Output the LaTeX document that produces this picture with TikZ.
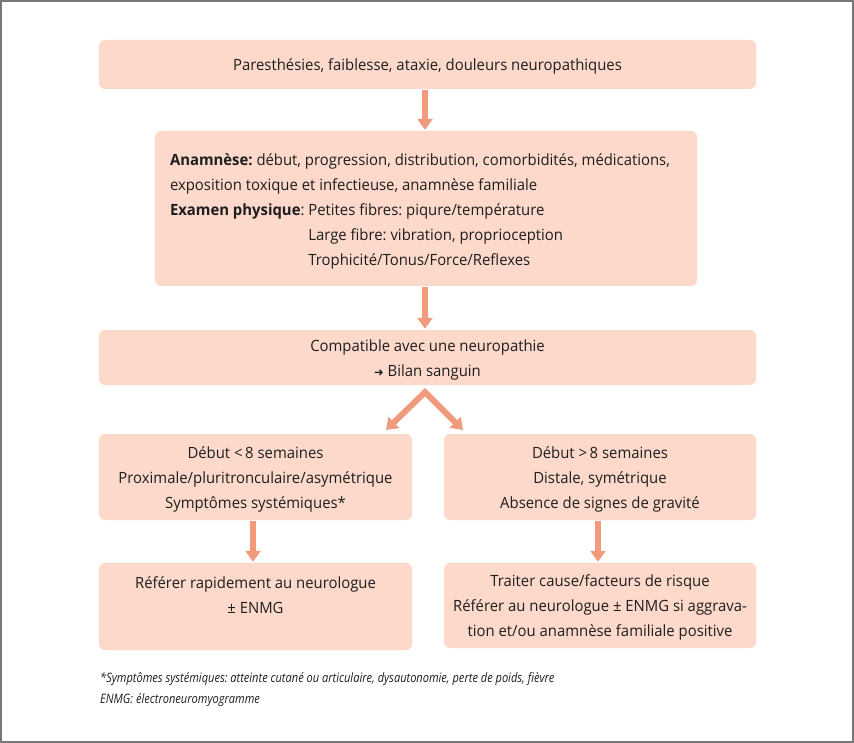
\documentclass[tikz,border=0pt]{standalone}
\usepackage{fontspec}
\setmainfont[FakeStretch=0.96]{Open Sans}
\newfontfamily\notefont[FakeStretch=0.85]{Open Sans}
\newfontfamily\dejavu{DejaVu Sans}
\usetikzlibrary{arrows.meta,calc}
\definecolor{boxfill}{RGB}{252,217,202}
\definecolor{arrowcol}{RGB}{242,155,124}
\definecolor{txt}{RGB}{30,30,30}
\definecolor{framecol}{RGB}{120,120,120}
\frenchspacing
\tikzset{
  box/.style={fill=boxfill, rounded corners=6pt, inner sep=0pt},
  btext/.style={inner sep=0pt, text=txt,
    font=\fontsize{15.5}{25}\selectfont, align=center},
  flow/.style={draw=arrowcol, line width=6pt,
    -{Triangle[width=15pt,length=11pt]}},
  vflow/.style={draw=arrowcol, line width=6pt, line join=miter,
    {Triangle[width=15pt,length=11pt]}-{Triangle[width=15pt,length=11pt]}},
  note/.style={anchor=west, inner sep=0pt, text=txt,
    font=\notefont\fontsize{13}{21}\selectfont\itshape}
}
\begin{document}
\begin{tikzpicture}[x=1pt,y=-1pt]
\useasboundingbox (0,0) rectangle (854,743);
\draw[framecol, line width=2pt] (1,1) rectangle (853,742);

% boxes
\node[box, minimum width=657pt, minimum height=49pt] (b1) at (427.5,64.5) {};
\node[box, minimum width=542pt, minimum height=155pt] (b2) at (426,208.5) {};
\node[box, minimum width=657pt, minimum height=55pt] (b3) at (427.5,357.5) {};
\node[box, minimum width=313pt, minimum height=86pt] (b4l) at (255.5,477) {};
\node[box, minimum width=312pt, minimum height=86pt] (b4r) at (600,477) {};
\node[box, minimum width=313pt, minimum height=87pt] (b5l) at (255.5,606.5) {};
\node[box, minimum width=312pt, minimum height=85pt] (b5r) at (600,605.5) {};

% texts
\node[btext] (t1) at ($(b1.center)+(0,2)$)
  {Paresthésies, faiblesse, ataxie, douleurs neuropathiques};
\node[btext, anchor=west, align=left] (t2) at ($(b2.west)+(15,2.5)$)
  {\begin{tabular}{@{}l@{\ }l@{}}
   \multicolumn{2}{@{}l@{}}{\textbf{Anamnèse:} début, progression, distribution, comorbidités, médications,}\\
   \multicolumn{2}{@{}l@{}}{exposition toxique et infectieuse, anamnèse familiale}\\
   \textbf{Examen physique}: & Petites fibres: piqure/température\\
   & Large fibre: vibration, proprioception\\
   & Trophicité/Tonus/Force/Reflexes
   \end{tabular}};
\node[btext] (t3) at ($(b3.center)+(0,2)$)
  {Compatible avec une neuropathie\\ {\dejavu\fontsize{11.5}{25}\selectfont ➜} Bilan sanguin};
\node[btext] (t4l) at ($(b4l.center)+(0,2.5)$)
  {Début <\,8 semaines\\ Proximale/pluritronculaire/asymétrique\\ Symptômes systémiques*};
\node[btext] (t4r) at ($(b4r.center)+(0,2.5)$)
  {Début >\,8 semaines\\ Distale, symétrique\\ Absence de signes de gravité};
\node[btext] (t5l) at ($(b5l.center)+(0,-11.5)$)
  {Référer rapidement au neurologue\\ ± ENMG};
\node[btext] (t5r) at ($(b5r.center)+(0,2)$)
  {Traiter cause/facteurs de risque\\ Référer au neurologue ± ENMG si aggrava-\\ tion et/ou anamnèse familiale positive};

\node[note] (n1) at (100,679) {*Symptômes systémiques: atteinte cutané ou articulaire, dysautonomie, perte de poids, fièvre};
\node[note] (n2) at (100,700) {ENMG: électroneuromyogramme};

% connectors
\draw[flow] ($(b1.south)+(-2.5,1)$) -- ($(b2.north)+(-1,-1)$);
\draw[flow] ($(b2.south)+(-1,1)$) -- ($(b3.north)+(-2.5,-1)$);
\coordinate (apex) at ($(b3.south)+(-2.5,7)$);
\coordinate (tipl) at (386,430);
\coordinate (tipr) at (463,430);
\draw[vflow] (tipl) -- (apex) -- (tipr);
\draw[flow] ($(b4l.south)+(-2.5,1)$) -- ($(b5l.north)+(-2.5,-1)$);
\draw[flow] ($(b4r.south)+(-2,1)$) -- ($(b5r.north)+(-2,-1)$);
\end{tikzpicture}
\end{document}
